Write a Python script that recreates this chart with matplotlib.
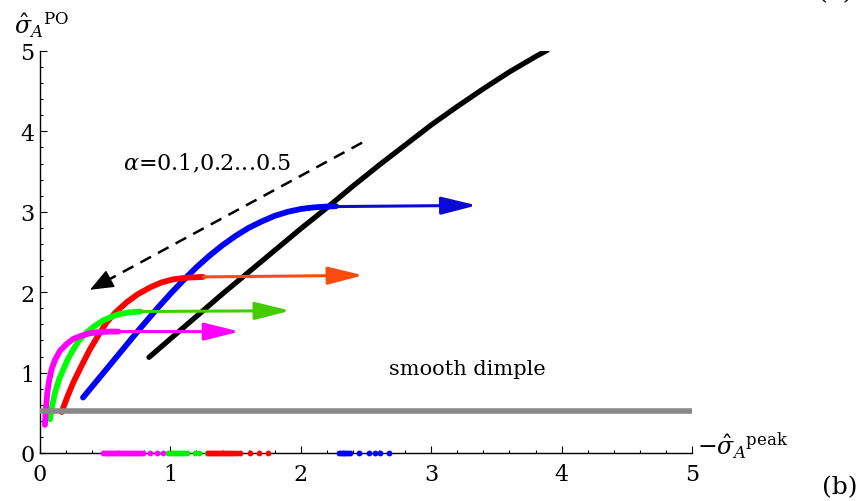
import matplotlib
matplotlib.use("Agg")
import matplotlib.pyplot as plt
from matplotlib.ticker import MultipleLocator

plt.rcParams['font.family'] = ['DejaVu Serif']
plt.rcParams['mathtext.fontset'] = 'dejavuserif'

# Critical-point curves (sigma_peak, sigma_PO) for alpha = 0.5 ... 0.1
black_x = [0.836, 1.0, 1.2, 1.4, 1.6, 1.8, 2.0, 2.2, 2.4, 2.6, 2.8, 3.0, 3.2,
           3.4, 3.6, 3.8, 3.89]
black_y = [1.19, 1.42, 1.70, 1.98, 2.25, 2.52, 2.79, 3.05, 3.32, 3.58, 3.83,
           4.08, 4.31, 4.53, 4.74, 4.93, 5.01]

blue_x = [0.33, 0.45, 0.6, 0.75, 0.9, 1.0, 1.1, 1.2, 1.3, 1.4, 1.5, 1.6, 1.7,
          1.8, 1.9, 2.0, 2.1, 2.2, 2.27]
blue_y = [0.69, 0.925, 1.22, 1.515, 1.80, 1.98, 2.15, 2.31, 2.455, 2.585, 2.70,
          2.80, 2.88, 2.95, 3.00, 3.035, 3.055, 3.065, 3.07]

red_x = [0.166, 0.21, 0.256, 0.32, 0.383, 0.45, 0.511, 0.58, 0.665, 0.75,
         0.844, 0.93, 1.02, 1.12, 1.25]
red_y = [0.51, 0.70, 0.88, 1.09, 1.29, 1.47, 1.625, 1.75, 1.875, 1.975,
         2.06, 2.12, 2.16, 2.18, 2.19]

green_x = [0.077, 0.095, 0.115, 0.145, 0.179, 0.215, 0.256, 0.30, 0.358,
           0.42, 0.486, 0.55, 0.613, 0.69, 0.77]
green_y = [0.42, 0.60, 0.75, 0.91, 1.04, 1.17, 1.29, 1.40, 1.50,
           1.58, 1.65, 1.695, 1.73, 1.75, 1.76]

magenta_x = [0.038, 0.045, 0.056, 0.07, 0.089, 0.115, 0.153, 0.20, 0.256,
             0.32, 0.383, 0.46, 0.54, 0.60]
magenta_y = [0.35, 0.55, 0.75, 0.90, 1.04, 1.16, 1.27, 1.35, 1.42,
             1.46, 1.49, 1.505, 1.51, 1.51]

# Horizontal arrows: (start x, start y, tip x, tip y)
blue_arrow = (2.27, 3.065, 3.35, 3.08)
red_arrow = (1.25, 2.19, 2.48, 2.21)
green_arrow = (0.77, 1.76, 1.92, 1.77)
magenta_arrow = (0.60, 1.51, 1.53, 1.51)

# Direction of decreasing alpha
alpha_arrow = (2.47, 3.86, 0.383, 2.03)

smooth_level = 0.52

# Points on the sigma_peak axis
magenta_dots = [0.48, 0.495, 0.51, 0.525, 0.54, 0.555, 0.57, 0.585, 0.60, 0.615,
                0.63, 0.645, 0.66, 0.675, 0.69, 0.705, 0.72, 0.735, 0.75, 0.77,
                0.79, 0.84, 0.90, 0.94]
green_dots = [0.984, 1.0, 1.015, 1.03, 1.045, 1.06, 1.075, 1.09, 1.105, 1.125,
              1.19, 1.22, 1.28]
red_dots = [1.29, 1.305, 1.32, 1.335, 1.35, 1.365, 1.38, 1.395, 1.41, 1.425,
            1.44, 1.455, 1.47, 1.49, 1.51, 1.53, 1.61, 1.68, 1.75]
blue_dots = [2.29, 2.305, 2.32, 2.335, 2.35, 2.365, 2.38, 2.45, 2.52, 2.57,
             2.61, 2.68]

ticks = [0, 1, 2, 3, 4, 5]

fig = plt.figure(figsize=(8.6, 5.02), dpi=100)
ax = fig.add_axes([40 / 860, 48 / 502, 652 / 860, 402 / 502])
ax.set_xlim(0, 5)
ax.set_ylim(0, 5)
for s in ('top', 'right'):
    ax.spines[s].set_visible(False)
for s in ('left', 'bottom'):
    ax.spines[s].set_linewidth(1.0)

ax.set_xticks(ticks)
ax.set_yticks(ticks)
ax.xaxis.set_minor_locator(MultipleLocator(0.2))
ax.yaxis.set_minor_locator(MultipleLocator(0.2))
ax.tick_params(which='both', direction='in', width=0.8)
ax.tick_params(which='major', length=5, labelsize=16)
ax.tick_params(axis='x', which='major', pad=7)
ax.tick_params(axis='y', which='major', pad=4)
ax.tick_params(which='minor', length=2.5)

curve_lw = 4.2
ax.plot(black_x, black_y, color='black', lw=3.8, solid_capstyle='round',
        solid_joinstyle='round', zorder=3)
ax.plot(blue_x, blue_y, color='#0000ff', lw=curve_lw, solid_capstyle='round',
        solid_joinstyle='round', zorder=4)
ax.plot(red_x, red_y, color='#ff0000', lw=curve_lw, solid_capstyle='round',
        solid_joinstyle='round', zorder=5)
ax.plot(green_x, green_y, color='#00ff00', lw=curve_lw, solid_capstyle='round',
        solid_joinstyle='round', zorder=6)
ax.plot(magenta_x, magenta_y, color='#ff00ff', lw=curve_lw, solid_capstyle='round',
        solid_joinstyle='round', zorder=7)


def horizontal_arrow(seg, color, z):
    x0, y0, x1, y1 = seg
    ax.annotate('', xy=(x1, y1), xytext=(x0, y0),
                arrowprops=dict(arrowstyle='-|>,head_length=1.08,head_width=0.27',
                                color=color, lw=2.2, mutation_scale=20,
                                shrinkA=0, shrinkB=0),
                zorder=z)


horizontal_arrow(blue_arrow, '#0a0ad2', 4)
horizontal_arrow(red_arrow, '#ff4a10', 5)
horizontal_arrow(green_arrow, '#44cc00', 6)
horizontal_arrow(magenta_arrow, '#ff00ff', 7)

# dashed guide arrow: dashed shaft plus a solid filled head at the tip
sx, sy, tx, ty = alpha_arrow
hx, hy = tx + 0.07 * (sx - tx), ty + 0.07 * (sy - ty)
ax.plot([sx, hx], [sy, hy], color='black', lw=1.8,
        linestyle=(0, (4.8, 3.2)), zorder=3)
ax.annotate('', xy=(tx, ty), xytext=(hx, hy),
            arrowprops=dict(arrowstyle='-|>,head_length=0.75,head_width=0.3',
                            color='black', lw=1.0, mutation_scale=20,
                            shrinkA=0, shrinkB=0),
            zorder=3)

ax.axhline(smooth_level, color='#888888', lw=4.0, zorder=8)

dot_kw = dict(marker='o', ms=4.2, ls='none', clip_on=False, zorder=9, mec='none')
ax.plot(magenta_dots, [0] * len(magenta_dots), color='#ff00ff', **dot_kw)
ax.plot(green_dots, [0] * len(green_dots), color='#00ee00', **dot_kw)
ax.plot(red_dots, [0] * len(red_dots), color='#ff0000', **dot_kw)
ax.plot(blue_dots, [0] * len(blue_dots), color='#0000ff', **dot_kw)

ax.text(0.64, 3.53, r'$\alpha$=0.1,0.2...0.5', fontsize=16, va='baseline', ha='left')
ax.text(2.68, 0.98, 'smooth dimple', fontsize=15, va='baseline', ha='left')

fig.text(14 / 860, (502 - 34) / 502, r'$\hat{\sigma}_{A}{}^{\mathrm{PO}}$',
         fontsize=17, va='baseline', ha='left')
fig.text(697 / 860, (502 - 455) / 502, r'$-\hat{\sigma}_{A}{}^{\mathrm{peak}}$',
         fontsize=17, va='baseline', ha='left')
fig.text(858 / 860, (502 - 494) / 502, '(b)', fontsize=18, va='baseline', ha='right')
fig.text(853 / 860, (502 + 1) / 502, '(a)', fontsize=18, va='baseline', ha='right')

fig.savefig('out.png', dpi=100)
